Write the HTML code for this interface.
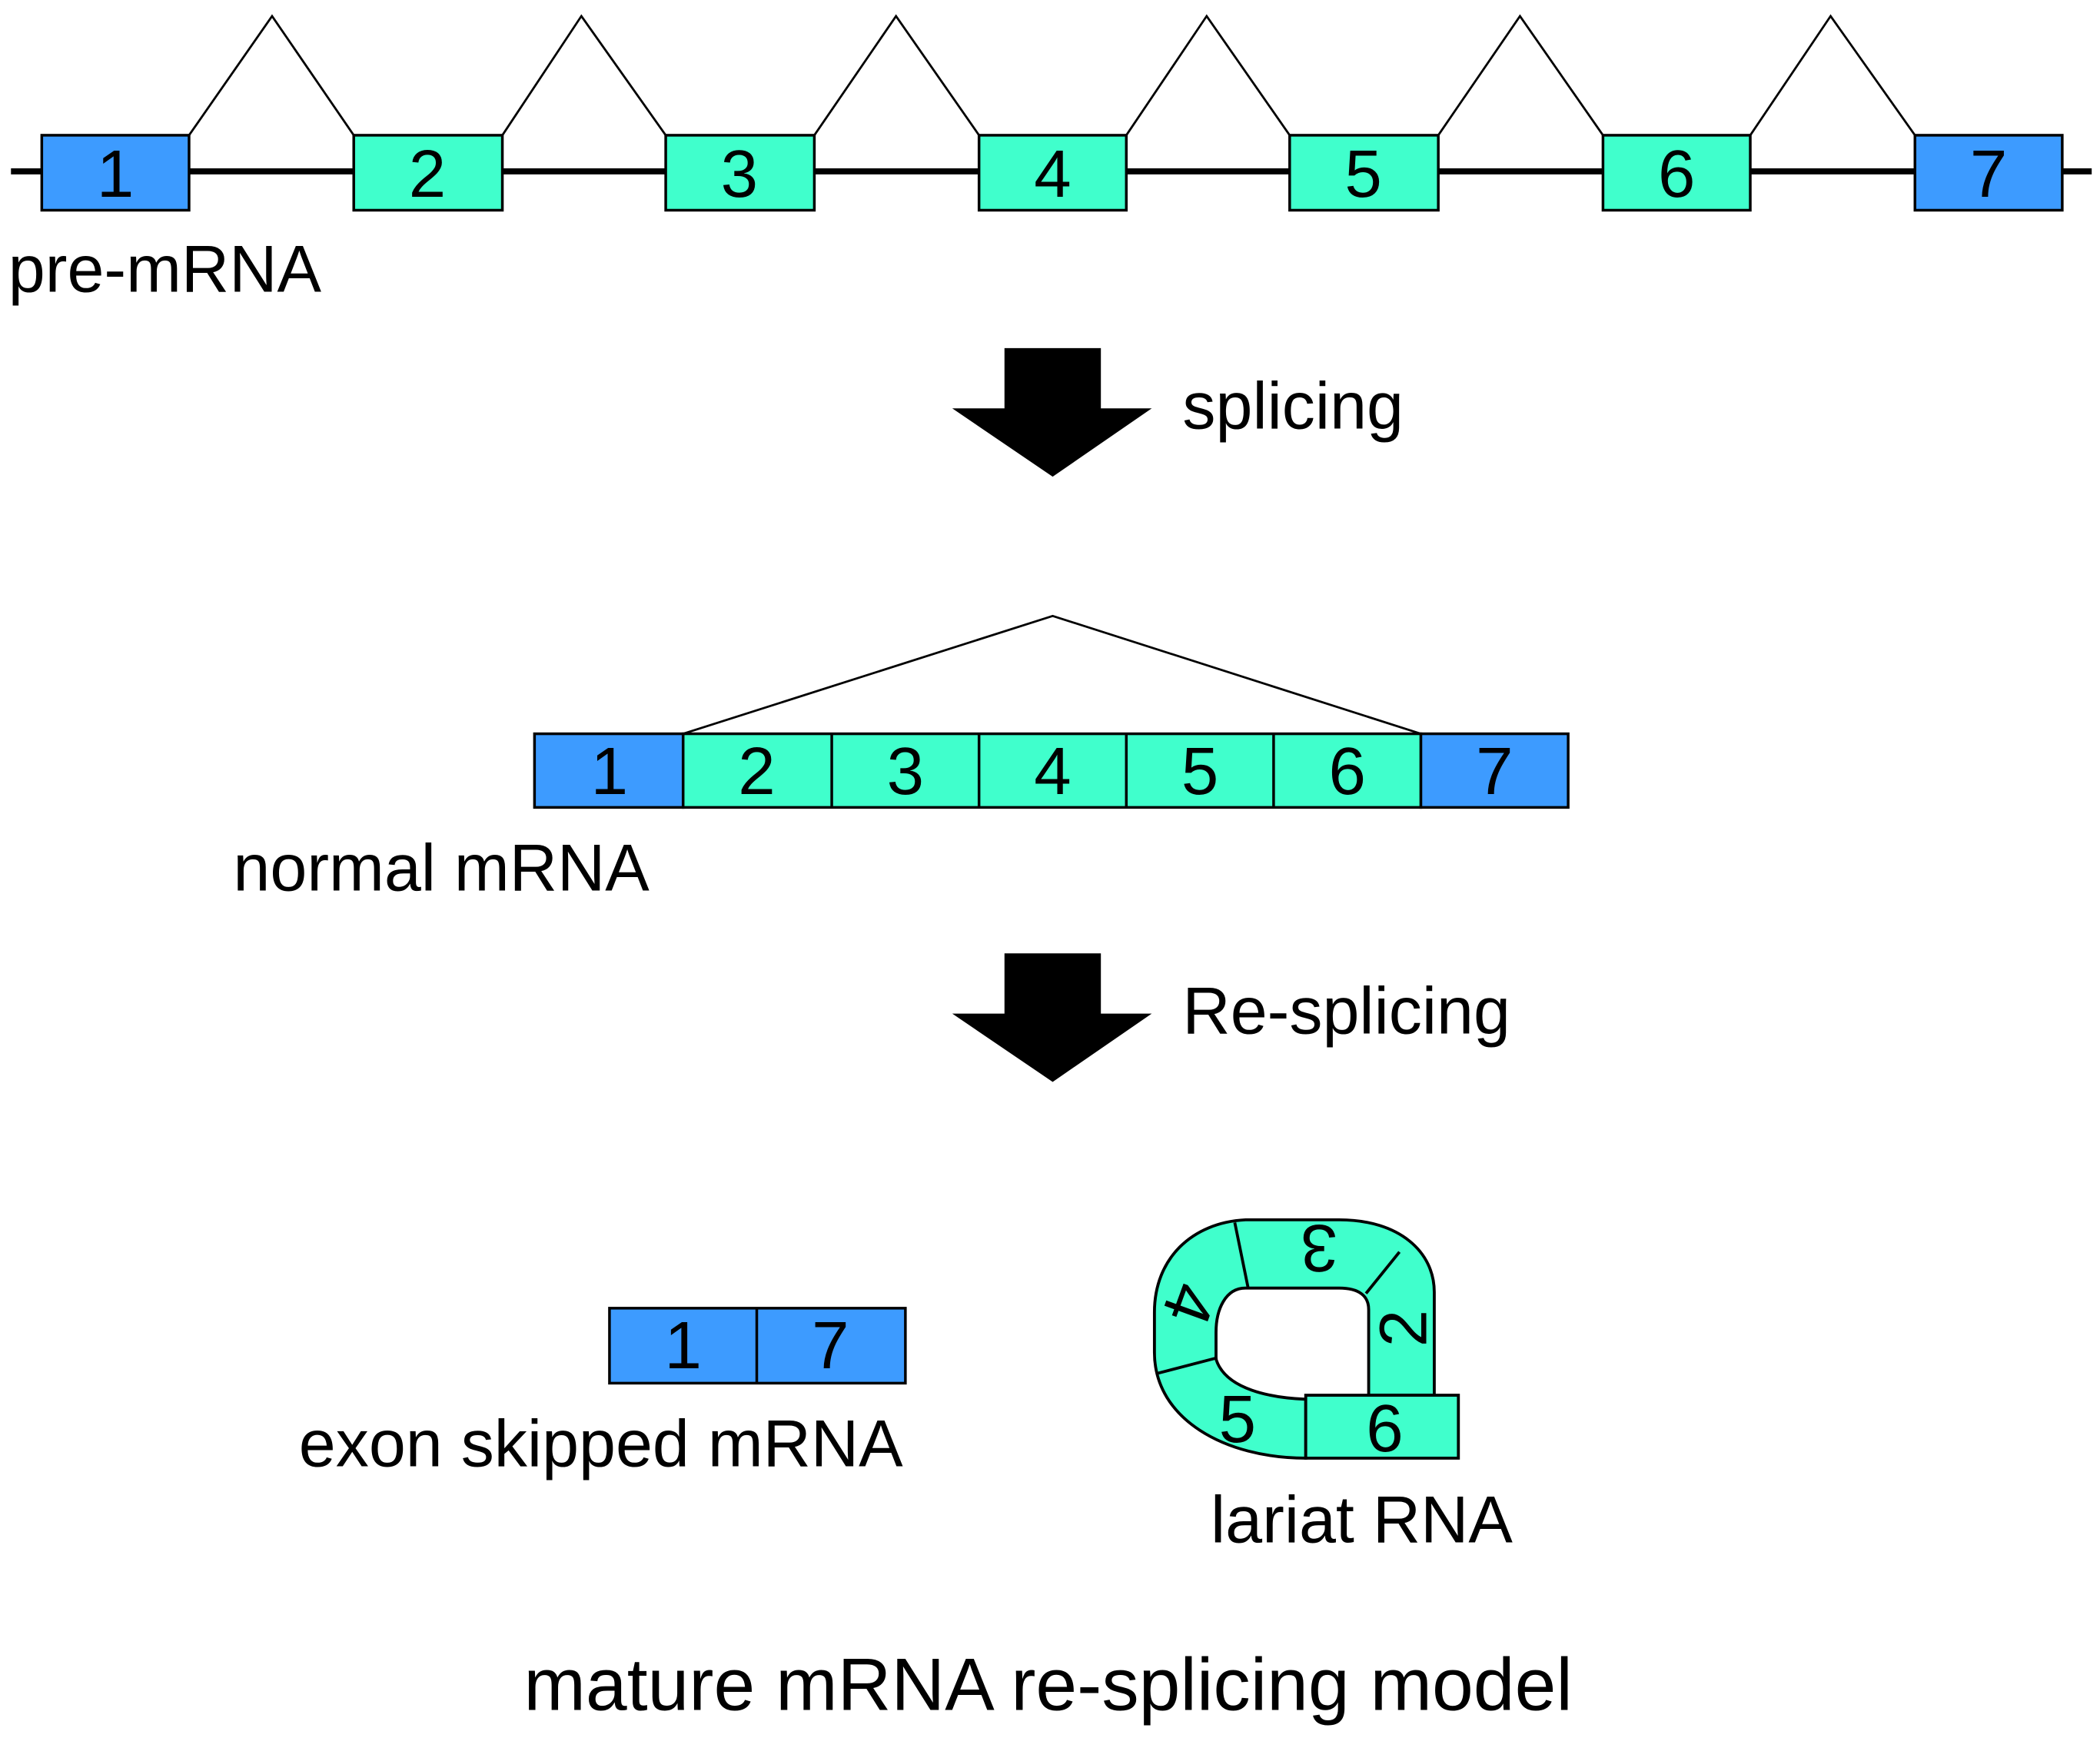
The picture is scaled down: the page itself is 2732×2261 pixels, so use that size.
<!DOCTYPE html>
<html><head><meta charset="utf-8"><style>html,body{margin:0;padding:0;background:#fff}svg{display:block}</style></head>
<body>
<svg width="2732" height="2261" viewBox="0 0 1568 1298" xmlns="http://www.w3.org/2000/svg" font-family="Liberation Sans, Arial, sans-serif">
<rect width="1568" height="1298" fill="#fff"/>
<!-- pre-mRNA -->
<line x1="8" y1="128" x2="1562" y2="128" stroke="#000" stroke-width="4.5"/>
<g stroke="#000" stroke-width="1.6" fill="none">
<polyline points="141,101 203,12 264,101"/>
<polyline points="375,101 434,12 497,101"/>
<polyline points="608,101 669,12 731,101"/>
<polyline points="841,101 901,12 963,101"/>
<polyline points="1074,101 1135,12 1197,101"/>
<polyline points="1307,101 1367,12 1430,101"/>
</g>
<g stroke="#000" stroke-width="2">
<rect x="31" y="101" width="110" height="56" fill="#3d9bff"/>
<rect x="264" y="101" width="111" height="56" fill="#40ffcc"/>
<rect x="497" y="101" width="111" height="56" fill="#40ffcc"/>
<rect x="731" y="101" width="110" height="56" fill="#40ffcc"/>
<rect x="963" y="101" width="111" height="56" fill="#40ffcc"/>
<rect x="1197" y="101" width="110" height="56" fill="#40ffcc"/>
<rect x="1430" y="101" width="110" height="56" fill="#3d9bff"/>
</g>
<g font-size="50" text-anchor="middle" fill="#000">
<text x="86" y="147">1</text><text x="319" y="147">2</text><text x="552" y="147">3</text><text x="786" y="147">4</text><text x="1018" y="147">5</text><text x="1252" y="147">6</text><text x="1485" y="147">7</text>
</g>
<g font-size="49.5" fill="#000">
<text x="6" y="218">pre-mRNA</text>
<text x="883" y="320">splicing</text>
<text x="174" y="665">normal mRNA</text>
<text x="883" y="772">Re-splicing</text>
<text x="223" y="1095">exon skipped mRNA</text>
<text x="904" y="1152">lariat RNA</text>
</g>
<text x="391" y="1277" font-size="55.5" fill="#000">mature mRNA re-splicing model</text>
<!-- arrows -->
<polygon points="750,260 822,260 822,305 860,305 786,356 711,305 750,305" fill="#000"/>
<polygon points="750,712 822,712 822,757 860,757 786,808 711,757 750,757" fill="#000"/>
<!-- normal mRNA -->
<polyline points="510,548 786,460 1061,548" stroke="#000" stroke-width="1.6" fill="none"/>
<g stroke="#000" stroke-width="2">
<rect x="399" y="548" width="111" height="55" fill="#3d9bff"/>
<rect x="510" y="548" width="551" height="55" fill="#40ffcc"/>
<rect x="1061" y="548" width="110" height="55" fill="#3d9bff"/>
<line x1="621" y1="548" x2="621" y2="603"/><line x1="731" y1="548" x2="731" y2="603"/><line x1="841" y1="548" x2="841" y2="603"/><line x1="951" y1="548" x2="951" y2="603"/>
</g>
<g font-size="50" text-anchor="middle" fill="#000">
<text x="455" y="593">1</text><text x="565" y="593">2</text><text x="676" y="593">3</text><text x="786" y="593">4</text><text x="896" y="593">5</text><text x="1006" y="593">6</text><text x="1116" y="593">7</text>
</g>
<!-- exon skipped -->
<g stroke="#000" stroke-width="2" fill="#3d9bff">
<rect x="455" y="977" width="221" height="56"/>
<line x1="565" y1="977" x2="565" y2="1033"/>
</g>
<g font-size="50" text-anchor="middle" fill="#000">
<text x="510" y="1022">1</text><text x="620" y="1022">7</text>
</g>
<!-- lariat -->
<g stroke="#000" stroke-width="2.2" fill="#40ffcc">
<path d="M975,1089 C915,1089 862,1060 862,1010 L862,980 C862,940 890,913 930,911 L1000,911 C1045,911 1071,935 1071,965 L1071,1042 L1022,1042 L1022,978 C1022,968 1015,962 1000,962 L930,962 C915,962 908,978 908,995 L908,1015 C915,1038 950,1044 975,1045 Z"/>
<rect x="975" y="1042" width="114" height="47"/>
<line x1="922" y1="913" x2="932" y2="962" fill="none"/>
<line x1="1045" y1="935" x2="1020" y2="966" fill="none"/>
<line x1="863" y1="1026" x2="909" y2="1014" fill="none"/>
</g>
<g font-size="50" text-anchor="middle" fill="#000">
<text transform="translate(985,915) rotate(180)">3</text>
<text transform="translate(1065,992) rotate(-90)">2</text>
<text transform="translate(872,968) rotate(110)">4</text>
<text x="924" y="1077">5</text>
<text x="1034" y="1084">6</text>
</g>
</svg>
</body></html>
